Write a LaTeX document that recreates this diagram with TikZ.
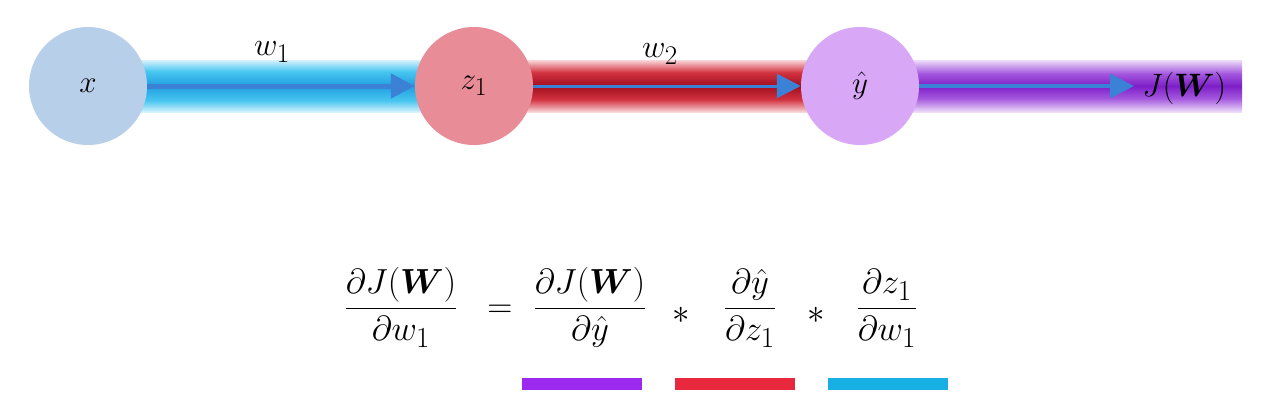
\documentclass[tikz,border=0pt]{standalone}
\usepackage{amsmath}
\usetikzlibrary{arrows.meta,calc,backgrounds}
\definecolor{xcirc}{HTML}{B7CFE8}
\definecolor{zcirc}{HTML}{E88C97}
\definecolor{ycirc}{HTML}{D8A8F7}
\definecolor{cyE}{HTML}{D6F2FC}
\definecolor{cyM}{HTML}{48C6F0}
\definecolor{cyC}{HTML}{1F9EE0}
\definecolor{rdE}{HTML}{F8D6DA}
\definecolor{rdM}{HTML}{D2323F}
\definecolor{rdC}{HTML}{A00F1E}
\definecolor{ppE}{HTML}{EEDDF9}
\definecolor{ppM}{HTML}{A458DE}
\definecolor{ppC}{HTML}{7E1EC8}
\definecolor{arrblue}{HTML}{3B82D6}
\definecolor{barP}{HTML}{9B2AF0}
\definecolor{barR}{HTML}{E8283C}
\definecolor{barC}{HTML}{16B0E5}
\pgfdeclareverticalshading{cyanband}{100bp}{color(0bp)=(white); color(25bp)=(cyE); color(36bp)=(cyM); color(50bp)=(cyC); color(64bp)=(cyM); color(75bp)=(cyE); color(100bp)=(white)}
\pgfdeclareverticalshading{redband}{100bp}{color(0bp)=(white); color(25bp)=(rdE); color(37bp)=(rdM); color(50bp)=(rdC); color(63bp)=(rdM); color(75bp)=(rdE); color(100bp)=(white)}
\pgfdeclareverticalshading{purpleband}{100bp}{color(0bp)=(white); color(25bp)=(ppE); color(38bp)=(ppM); color(50bp)=(ppC); color(62bp)=(ppM); color(75bp)=(ppE); color(100bp)=(white)}
\tikzset{
  neuron/.style={circle, minimum size=94.4pt, inner sep=0pt, font=\Huge, scale=1.25},
  arr/.style={draw=arrblue, -{Triangle[length=24pt,width=24pt]}},
  lbl/.style={font=\Huge, scale=1.3, inner sep=0pt},
  eqn/.style={font=\Huge, scale=1.4, anchor=base, inner sep=0pt},
  keybar/.style={line width=12pt}
}
\begin{document}
\begin{tikzpicture}[x=1pt,y=-1pt]
\useasboundingbox (0,0) rectangle (1269,418);
\node[neuron, fill=xcirc] (x) at (88,86) {$x$};
\node[neuron, fill=zcirc] (z1) at (474,86) {\raisebox{-3pt}{$z_1$}};
\node[neuron, fill=ycirc] (yhat) at (860,86) {$\hat{y}$};
\node[lbl, anchor=west] (J) at (1142,88) {$J(\boldsymbol{W})$};
\coordinate (Jin) at (1134,86);
\begin{scope}[on background layer]
  \path[shading=cyanband] ($(x.center)+(0,-26)$) rectangle ($(z1.center)+(0,26)$);
  \path[shading=redband] ($(z1.center)+(0,-26)$) rectangle ($(yhat.center)+(0,26)$);
  \path[shading=purpleband] ($(yhat.center)+(0,-26)$) rectangle (1242,112);
\end{scope}
\draw[arr, line width=5pt] (x) -- (z1);
\draw[arr, line width=3pt] (z1) -- (yhat);
\draw[arr, line width=4pt] (yhat) -- (Jin);
\node[lbl] (w1) at (272,52) {$w_1$};
\node[lbl] (w2) at (660,54) {$w_2$};
% equation
\node[eqn] (f1) at (401,317) {$\dfrac{\partial J(\boldsymbol{W})}{\partial w_1}$};
\node[eqn] (eq) at (500,317) {$=$};
\node[eqn] (f2) at (590,317) {$\dfrac{\partial J(\boldsymbol{W})}{\partial \hat{y}}$};
\node[eqn] (s1) at (681,323) {$\ast$};
\node[eqn] (f3) at (750,317) {$\dfrac{\partial \hat{y}}{\partial z_1}$};
\node[eqn] (s2) at (816,323) {$\ast$};
\node[eqn] (f4) at (887,317) {$\dfrac{\partial z_1}{\partial w_1}$};
\draw[keybar, barP] (522,384) -- (642,384);
\draw[keybar, barR] (675,384) -- (795,384);
\draw[keybar, barC] (828,384) -- (948,384);
\end{tikzpicture}
\end{document}
